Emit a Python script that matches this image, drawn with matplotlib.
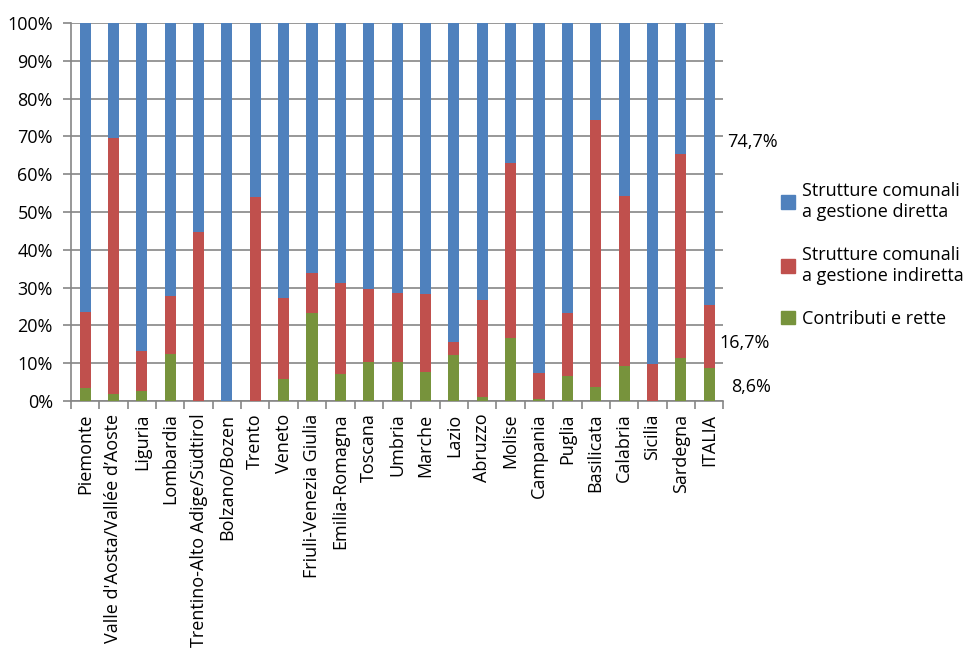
import matplotlib
matplotlib.use('Agg')
from matplotlib import pyplot as plt
from matplotlib.ticker import FuncFormatter
from matplotlib.patches import Patch

regioni = ['Piemonte', "Valle d'Aosta/Vallée d\u2019Aoste", 'Liguria', 'Lombardia',
           'Trentino-Alto Adige/Südtirol', 'Bolzano/Bozen', 'Trento', 'Veneto',
           'Friuli-Venezia Giulia', 'Emilia-Romagna', 'Toscana', 'Umbria',
           'Marche', 'Lazio', 'Abruzzo', 'Molise', 'Campania', 'Puglia',
           'Basilicata', 'Calabria', 'Sicilia', 'Sardegna', 'ITALIA']

contributi = [3.5, 1.9, 2.6, 12.5, 0.0, 0.0, 0.0, 5.8, 23.3, 7.2, 10.4, 10.4,
              7.8, 12.2, 1.1, 16.8, 0.4, 6.7, 3.7, 9.3, 0.0, 11.5, 8.6]
indiretta = [20.1, 67.8, 10.6, 15.4, 44.8, 0.0, 54.0, 21.5, 10.6, 24.0, 19.2, 18.2,
             20.6, 3.5, 25.7, 46.2, 7.0, 16.6, 70.7, 45.0, 9.9, 53.9, 16.7]
diretta = [100 - a - b for a, b in zip(contributi, indiretta)]
diretta[-1] = 74.7

c_blue = '#4f81bd'
c_red = '#c0504d'
c_green = '#77933c'
grid_c = '#868686'
fs = 13

plt.rcParams['font.family'] = ['Open Sans', 'DejaVu Sans']

fig = plt.figure(figsize=(9.71, 6.59), dpi=100)
ax = fig.add_axes([0.073, 0.3915, 0.672, 0.5735])

x = list(range(len(regioni)))
w = 0.39
ax.bar(x, contributi, w, color=c_green, zorder=3)
ax.bar(x, indiretta, w, bottom=contributi, color=c_red, zorder=3)
bott = [a + b for a, b in zip(contributi, indiretta)]
ax.bar(x, diretta, w, bottom=bott, color=c_blue, zorder=3)

ax.set_xlim(-0.5, len(regioni) - 0.5)
ax.set_ylim(0, 100)
ax.set_yticks(range(0, 101, 10))
ax.yaxis.set_major_formatter(FuncFormatter(lambda v, p: '%d%%' % v))
ax.grid(axis='y', color=grid_c, linewidth=1.2, zorder=0)
ax.set_xticks(x)
ax.set_xticklabels(regioni, rotation=90)
ax.set_xticks([i - 0.5 for i in range(len(regioni) + 1)], minor=True)
ax.tick_params(axis='x', which='major', length=0, pad=9, labelsize=fs)
ax.tick_params(axis='x', which='minor', length=6, color=grid_c, width=1.2)
ax.tick_params(axis='y', length=6, color=grid_c, width=1.2, labelsize=fs, pad=7)
for s in ['top', 'right']:
    ax.spines[s].set_visible(False)
for s in ['left', 'bottom']:
    ax.spines[s].set_color(grid_c)
    ax.spines[s].set_linewidth(1.2)

# etichette ITALIA
it = len(regioni) - 1
ax.text(it + 0.62, 68.6, '74,7%', fontsize=fs, va='center', ha='left')
ax.text(it + 0.35, 15.3, '16,7%', fontsize=fs, va='center', ha='left')
ax.text(it + 0.77, 3.8, '8,6%', fontsize=fs, va='center', ha='left')

handles = [Patch(color=c_blue), Patch(color=c_red), Patch(color=c_green)]
labels = ['Strutture comunali\na gestione diretta', 'Strutture comunali\na gestione indiretta',
          'Contributi e rette']
fig.legend(handles, labels, loc='upper left', bbox_to_anchor=(0.797, 0.735), frameon=False,
           fontsize=fs, handlelength=0.75, handleheight=0.75, handletextpad=0.4,
           labelspacing=1.4, borderaxespad=0)

fig.savefig('out.png', dpi=100)
